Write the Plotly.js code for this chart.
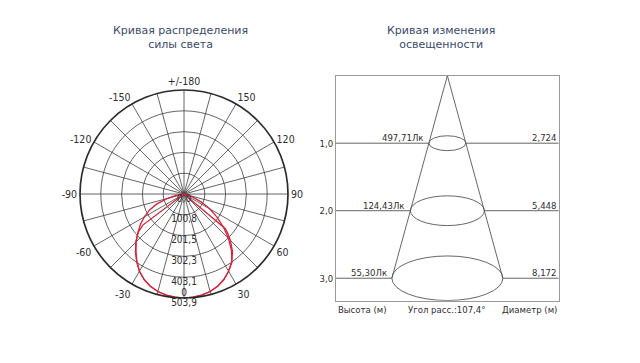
<!DOCTYPE html>
<html><head><meta charset="utf-8">
<script src="https://cdn.plot.ly/plotly-3.0.1.min.js"></script>
<style>html,body{margin:0;padding:0;background:#fff}#chart{width:640px;height:363px}</style>
</head><body><div id="chart"></div>
<script>
// ---- Polar light-intensity curves (cd/klm), angle measured from nadir ----
const c0Theta = [-85,-80,-75,-70,-65,-60,-55,-50,-45,-40,-35,-30,-25,-20,-15,-10,-5,0,5,10,15,20,25,30,35,40,45,50,55,60,65,70,75,80];
const c0R     = [0,40,85,140,185,222,258,292,328,362,398,432,457,476,489,497,502,503.9,502,497,489,476,457,432,405,358,305,250,195,145,95,48,12,0];
const c90Theta = [-53.5,-53,-50,-45,-40,-35,-30,-25,-20,-15,-10,-5,0,5,10,15,20,25,30,35,40,45,48,50,50.5];
const c90R     = [0,250,290,330,366,400,432,457,476,489,497,502,503.9,502,497,489,476,457,432,402,366,318,285,262,0];
const radialTicks = [0,100.8,201.5,302.3,403.1,503.9];
const radialTickLabels = ['0,0','100,8','201,5','302,3','403,1','503,9'];
const gridAngles = [0,15,30,45,60,75,90,105,120,135,150,165,180,195,210,225,240,255,270,285,300,315,330,345];
const gridAngleLabels = ['','','30','','60','','90','','120','','150','','+/-180','','-150','','-120','','-90','','-60','','-30',''];
const nadirLabel = '0';

// ---- Illuminance cone ----
const heights = [1,2,3];
const heightLabels = ['1,0','2,0','3,0'];
const diameters = [2.724,5.448,8.172];
const diameterLabels = ['2,724','5,448','8,172'];
const illuminanceLabels = ['497,71Лк','124,43Лк','55,30Лк'];
const beamAngleLabel = 'Угол расс.:107,4°';
const heightTitle = 'Высота (м)';
const diameterTitle = 'Диаметр (м)';
const title1 = 'Кривая распределения<br>силы света';
const title2 = 'Кривая изменения<br>освещенности';

const xRange = [-8.2, 8.2];
const yRange = [3.333, 0];
const ellipseFlat = 0.11;
const rMax = radialTicks[radialTicks.length-1];

const narrow = '"Liberation Sans Narrow", "Arial Narrow", "DejaVu Sans Condensed", sans-serif';
const red = '#d6243c';
const lineGrey = '#555';
const txt = '#2e2e2e';

const traces = [
  {type:'scatterpolar', theta:c0Theta, r:c0R, mode:'lines', line:{color:red, width:1.3}, hoverinfo:'skip', showlegend:false},
  {type:'scatterpolar', theta:c90Theta, r:c90R, mode:'lines', line:{color:red, width:1.3}, hoverinfo:'skip', showlegend:false},
  {type:'scatterpolar', theta:radialTicks.map(()=>0), r:radialTicks, mode:'text', text:radialTickLabels,
   textposition:'bottom center', textfont:{family:narrow, size:10, color:txt}, cliponaxis:false, hoverinfo:'skip', showlegend:false},
  {type:'scatterpolar', theta:[0], r:[rMax], mode:'text', text:[nadirLabel],
   textposition:'top center', textfont:{family:narrow, size:10, color:txt}, cliponaxis:false, hoverinfo:'skip', showlegend:false}
];

// horizontal height lines (outside the ellipses)
const hx = [], hy = [];
heights.forEach((h,i)=>{
  hx.push(xRange[0], -diameters[i]/2, null, diameters[i]/2, xRange[1], null);
  hy.push(h, h, null, h, h, null);
});
traces.push({type:'scatter', x:hx, y:hy, xaxis:'x2', yaxis:'y2', mode:'lines', line:{color:lineGrey, width:0.9}, hoverinfo:'skip', showlegend:false});
// cone edges
const dMax = diameters[diameters.length-1], hMax = heights[heights.length-1];
traces.push({type:'scatter', x:[-dMax/2, 0, dMax/2], y:[hMax, 0, hMax], xaxis:'x2', yaxis:'y2', mode:'lines', line:{color:lineGrey, width:0.9}, hoverinfo:'skip', showlegend:false});

const shapes = heights.map((h,i)=>({type:'circle', xref:'x2', yref:'y2',
  x0:-diameters[i]/2, x1:diameters[i]/2, y0:h-ellipseFlat*h, y1:h+ellipseFlat*h,
  line:{color:lineGrey, width:0.9}}));

const annFont = {family:narrow, size:9.5, color:txt};
const annotations = [];
heights.forEach((h,i)=>{
  annotations.push({xref:'x2', yref:'y2', x:-diameters[i]/2, y:h, text:illuminanceLabels[i], showarrow:false,
    xanchor:'right', yanchor:'bottom', xshift:-3, yshift:-2, font:annFont});
  annotations.push({xref:'x2', yref:'y2', x:xRange[1], y:h, text:diameterLabels[i], showarrow:false,
    xanchor:'right', yanchor:'bottom', xshift:-1, yshift:-2, font:annFont});
});
annotations.push({xref:'x2', yref:'y2', x:xRange[0], y:yRange[0], text:heightTitle, showarrow:false, xanchor:'left', yanchor:'top', yshift:-1, font:annFont});
annotations.push({xref:'x2', yref:'y2', x:0, y:yRange[0], text:beamAngleLabel, showarrow:false, xanchor:'center', yanchor:'top', yshift:-1, font:annFont});
annotations.push({xref:'x2', yref:'y2', x:xRange[1], y:yRange[0], text:diameterTitle, showarrow:false, xanchor:'right', yanchor:'top', yshift:-1, font:annFont});
const titleFont = {family:'"DejaVu Sans", Verdana, sans-serif', size:11, color:'#3b4a6b'};
annotations.push({xref:'paper', yref:'paper', x:0.2817, y:0.8967, text:title1, showarrow:false, xanchor:'center', yanchor:'middle', font:titleFont});
annotations.push({xref:'paper', yref:'paper', x:0.6888, y:0.8967, text:title2, showarrow:false, xanchor:'center', yanchor:'middle', font:titleFont});

const layout = {
  width:640, height:363, margin:{l:0,r:0,t:0,b:0}, paper_bgcolor:'#fff', plot_bgcolor:'#fff', showlegend:false,
  polar:{
    domain:{x:[0.125,0.45], y:[0.179,0.752]}, bgcolor:'#fff',
    angularaxis:{rotation:-90, direction:'counterclockwise', tickmode:'array', tickvals:gridAngles, ticktext:gridAngleLabels,
      ticks:'', showline:true, linecolor:'#2a2a2a', linewidth:1.7, gridcolor:'#3c3c3c', gridwidth:0.8,
      tickfont:{family:narrow, size:10.5, color:txt}},
    radialaxis:{range:[0,rMax], angle:-90, tickmode:'array', tickvals:radialTicks,
      showticklabels:false, ticks:'', showline:false, gridcolor:'#3c3c3c', gridwidth:0.8}
  },
  xaxis2:{domain:[0.525,0.873], anchor:'y2', range:xRange, showgrid:false, zeroline:false, showticklabels:false, ticks:'',
    showline:true, mirror:true, linecolor:'#999', linewidth:1},
  yaxis2:{domain:[0.1716,0.7915], anchor:'x2', range:yRange, showgrid:false, zeroline:false, tickmode:'array',
    tickvals:heights, ticktext:heightLabels, ticks:'', showline:true, mirror:true, linecolor:'#999', linewidth:1,
    tickfont:{family:narrow, size:9.5, color:txt}},
  shapes:shapes, annotations:annotations
};
Plotly.newPlot('chart', traces, layout, {staticPlot:true, displayModeBar:false});
</script></body></html>
